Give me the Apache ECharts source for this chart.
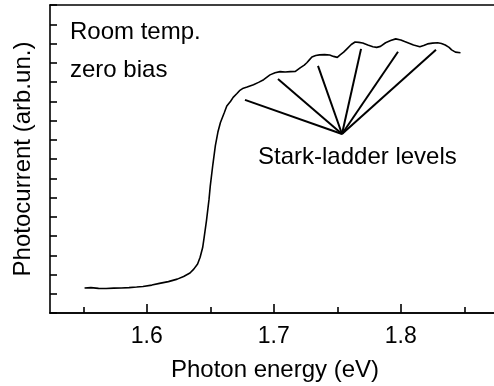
<!DOCTYPE html>
<html>
<head>
<meta charset="utf-8">
<script src="https://cdn.jsdelivr.net/npm/echarts@6/dist/echarts.min.js"></script>
<style>
  html, body { margin: 0; padding: 0; background: #fff; overflow: hidden; }
  #chart { width: 494px; height: 386px; }
</style>
</head>
<body>
<div id="chart"></div>
<script>
// photon energy (eV) and photocurrent (arb. units, in y-tick steps)
var energy = [1.551, 1.556, 1.562, 1.568, 1.574, 1.580, 1.586, 1.592, 1.597, 1.604,
  1.610, 1.617, 1.624, 1.629, 1.634, 1.637, 1.640, 1.642, 1.644, 1.645,
  1.647, 1.649, 1.650, 1.652, 1.654, 1.656, 1.658, 1.661, 1.663, 1.666,
  1.668, 1.671, 1.673, 1.676, 1.679, 1.684, 1.688, 1.692, 1.697, 1.701,
  1.705, 1.709, 1.713, 1.717, 1.721, 1.724, 1.726, 1.728, 1.730, 1.733,
  1.736, 1.740, 1.744, 1.747, 1.750, 1.752, 1.755, 1.758, 1.761, 1.764,
  1.767, 1.770, 1.774, 1.778, 1.781, 1.784, 1.788, 1.792, 1.796, 1.800,
  1.803, 1.807, 1.810, 1.815, 1.818, 1.821, 1.825, 1.829, 1.832, 1.835,
  1.838, 1.840, 1.843, 1.847];
var photocurrent = [1.30, 1.32, 1.28, 1.27, 1.29, 1.30, 1.32, 1.35, 1.38, 1.45,
  1.54, 1.63, 1.76, 1.90, 2.08, 2.28, 2.55, 2.90, 3.40, 3.85,
  4.8, 5.9, 6.6, 7.7, 8.7, 9.4, 9.9, 10.4, 10.75, 11.0,
  11.2, 11.4, 11.55, 11.68, 11.74, 11.86, 11.98, 12.12, 12.37, 12.48,
  12.54, 12.52, 12.54, 12.55, 12.75, 12.88, 13.0, 13.15, 13.3, 13.38,
  13.41, 13.42, 13.40, 13.33, 13.28, 13.40, 13.55, 13.75, 13.95, 14.08,
  14.06, 14.03, 13.92, 13.83, 13.80, 13.85, 14.04, 14.15, 14.24, 14.18,
  14.10, 14.00, 13.92, 13.83, 13.90, 13.98, 14.02, 14.04, 14.00, 13.92,
  13.80, 13.67, 13.55, 13.52];

// Stark-ladder pointer lines: common hub and the tip of each line
var starkHub = [1.7537, 9.30];
var starkTips = [[1.6773, 11.07], [1.7033, 12.16], [1.7348, 12.84],
  [1.7687, 13.72], [1.7978, 13.57], [1.8277, 13.67]];

var majorTicks = [1.6, 1.7, 1.8];
var minorTicks = [1.55, 1.65, 1.75, 1.85];

var font = 'Liberation Sans, Arial, Helvetica, sans-serif';

var chart = echarts.init(document.getElementById('chart'), null, { renderer: 'canvas' });

var curve = energy.map(function (e, i) { return [e, photocurrent[i]]; });

var series = [{
  type: 'line',
  data: curve,
  showSymbol: false,
  lineStyle: { color: '#000', width: 1.6 },
  animation: false
}];
starkTips.forEach(function (tip) {
  series.push({
    type: 'line',
    data: [starkHub, tip],
    showSymbol: false,
    lineStyle: { color: '#000', width: 2 },
    animation: false
  });
});

var axisLine = { show: true, lineStyle: { color: '#000', width: 1.6 } };
// the plot frame runs past the right edge of the picture
var xCommon = {
  type: 'value',
  min: 1.5238,
  max: 1.8781,
  position: 'bottom',
  splitLine: { show: false },
  axisLine: axisLine
};

var option = {
  animation: false,
  grid: { left: 50, top: 5, width: 450, bottom: 73, outerBoundsMode: 'none' },
  xAxis: [
    Object.assign({}, xCommon, {
      name: 'Photon energy (eV)',
      nameLocation: 'middle',
      nameGap: 45,
      nameTextStyle: { color: '#000', fontSize: 24, fontFamily: font },
      axisTick: { show: true, inside: true, length: 9, customValues: majorTicks,
        lineStyle: { color: '#000', width: 1.6 } },
      axisLabel: { show: true, margin: 12, customValues: majorTicks,
        color: '#000', fontSize: 23, fontFamily: font,
        formatter: function (v) { return v.toFixed(1); } }
    }),
    Object.assign({}, xCommon, {
      axisTick: { show: true, inside: true, length: 6, customValues: minorTicks,
        lineStyle: { color: '#000', width: 1.6 } },
      axisLabel: { show: false }
    }),
    Object.assign({}, xCommon, {
      position: 'top',
      axisTick: { show: false },
      axisLabel: { show: false }
    })
  ],
  yAxis: {
    type: 'value',
    min: 0,
    max: 16,
    interval: 1,
    name: 'Photocurrent (arb.un.)',
    nameLocation: 'middle',
    nameGap: 15,
    nameTextStyle: { color: '#000', fontSize: 24, fontFamily: font },
    splitLine: { show: false },
    axisLine: axisLine,
    axisTick: { show: true, inside: true, length: 7, lineStyle: { color: '#000', width: 1.6 } },
    axisLabel: { show: false }
  },
  graphic: [
    { type: 'text', left: 70, top: 20,
      style: { text: 'Room temp.', fill: '#000', font: '24px ' + font } },
    { type: 'text', left: 70, top: 58,
      style: { text: 'zero bias', fill: '#000', font: '24px ' + font } },
    { type: 'text', left: 258, top: 145,
      style: { text: 'Stark-ladder levels', fill: '#000', font: '24px ' + font } }
  ],
  series: series
};

chart.setOption(option);
</script>
</body>
</html>
